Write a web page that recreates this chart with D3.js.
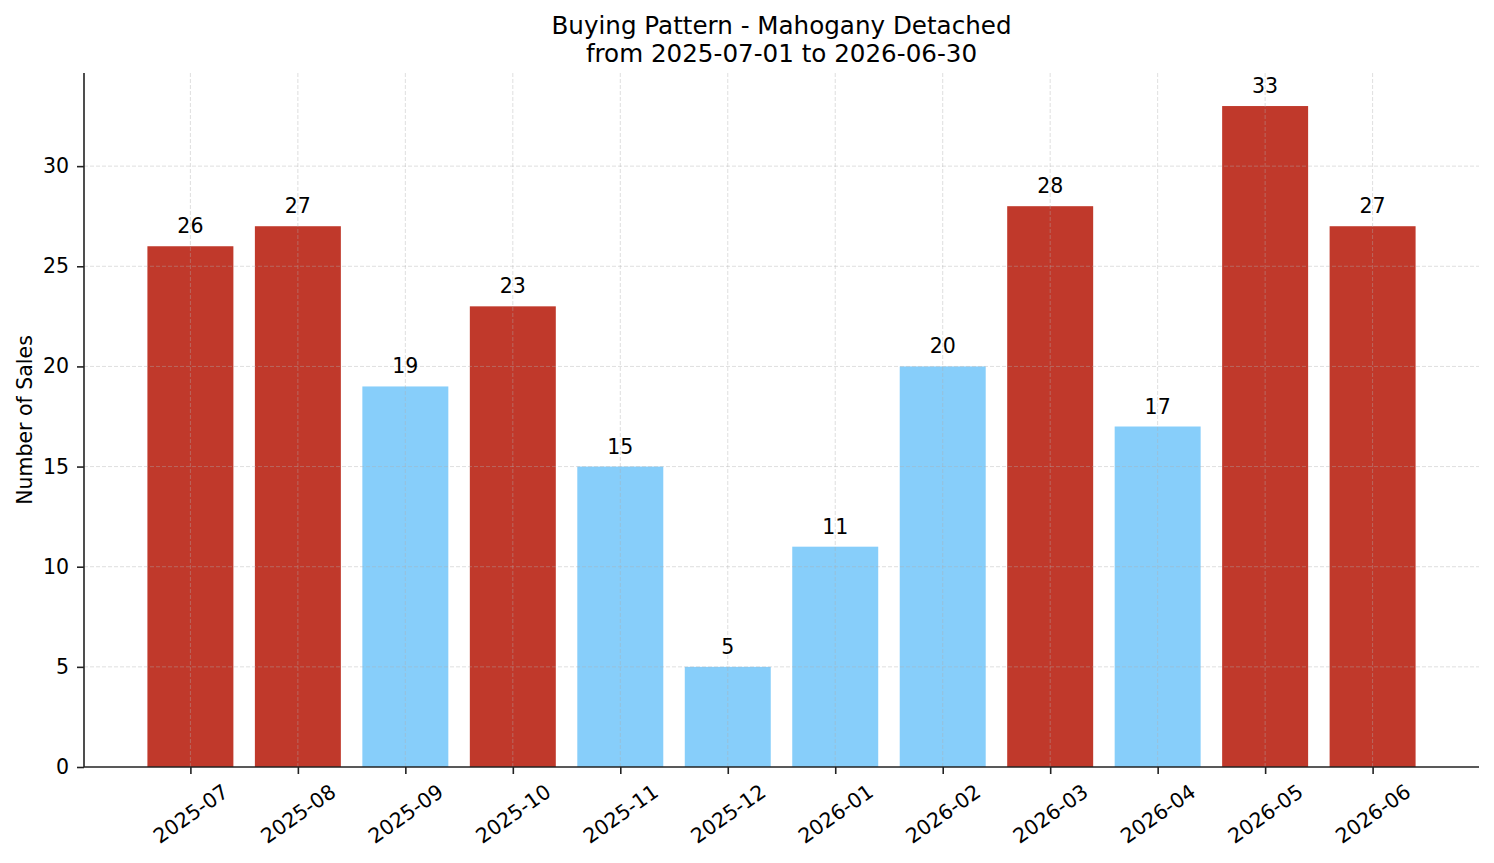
<!DOCTYPE html>
<html>
<head>
<meta charset="utf-8">
<script src="https://cdn.jsdelivr.net/npm/d3@7"></script>
<style>
  body { margin: 0; background: #fff; }
  svg, svg text { font-family: "DejaVu Sans", sans-serif; }
</style>
</head>
<body>
<div id="chart"></div>
<script>
var months = ["2025-07", "2025-08", "2025-09", "2025-10", "2025-11", "2025-12",
              "2026-01", "2026-02", "2026-03", "2026-04", "2026-05", "2026-06"];
var sales = [26, 27, 19, 23, 15, 5, 11, 20, 28, 17, 33, 27];
var y_ticks = [0, 5, 10, 15, 20, 25, 30];

var title_lines = ["Buying Pattern - Mahogany Detached", "from 2025-07-01 to 2026-06-30"];
var y_label = "Number of Sales";

var colour_high = "#c0392b";
var colour_low = "#87cefa";

var width = 1494, height = 863;
var margin = { top: 73, right: 15, bottom: 96, left: 84 };
var inner_w = width - margin.left - margin.right;
var inner_h = height - margin.top - margin.bottom;
var fs = 20.5;

var avg = d3.mean(sales);

var svg = d3.select("#chart").append("svg")
    .attr("width", width)
    .attr("height", height);

var g = svg.append("g")
    .attr("transform", "translate(" + margin.left + "," + margin.top + ")");

// matplotlib style limits: bars of width 0.8, 5% margin
var n = months.length;
var lo = -0.4 - 0.05 * (n - 0.2), hi = n - 1 + 0.4 + 0.05 * (n - 0.2);
var x = d3.scaleLinear().domain([lo, hi]).range([0, inner_w]);
var y = d3.scaleLinear().domain([0, d3.max(sales) * 1.05]).range([inner_h, 0]);

// bars
g.selectAll(".bar")
    .data(sales)
    .enter()
    .append("rect")
    .attr("class", "bar")
    .attr("x", function(d, i) { return x(i - 0.4); })
    .attr("width", x(0.8) - x(0))
    .attr("y", function(d) { return y(d); })
    .attr("height", function(d) { return inner_h - y(d); })
    .attr("fill", function(d) { return d > avg ? colour_high : colour_low; });

// grid on top of bars
var grid = g.append("g").attr("class", "grid");
grid.selectAll(".gy")
    .data(y_ticks.slice(1))
    .enter()
    .append("line")
    .attr("x1", 0).attr("x2", inner_w)
    .attr("y1", function(d) { return y(d); })
    .attr("y2", function(d) { return y(d); });
grid.selectAll(".gx")
    .data(months)
    .enter()
    .append("line")
    .attr("x1", function(d, i) { return x(i); })
    .attr("x2", function(d, i) { return x(i); })
    .attr("y1", 0).attr("y2", inner_h);
grid.selectAll("line")
    .attr("stroke", "#b0b0b0")
    .attr("stroke-opacity", 0.5)
    .attr("stroke-width", 0.8)
    .attr("stroke-dasharray", "4,2");

// value labels
g.selectAll(".val")
    .data(sales)
    .enter()
    .append("text")
    .attr("x", function(d, i) { return x(i); })
    .attr("y", function(d) { return y(d) - 13; })
    .attr("text-anchor", "middle")
    .style("font-size", fs + "px")
    .attr("fill", "#000")
    .text(function(d) { return d; });

// y axis
var y_axis = g.append("g")
    .call(d3.axisLeft(y).tickValues(y_ticks).tickSize(7).tickPadding(8).tickFormat(d3.format("d")));
y_axis.selectAll("text").style("font-size", fs + "px").attr("fill", "#000");

// x axis
var x_axis = g.append("g")
    .attr("transform", "translate(0," + inner_h + ")")
    .call(d3.axisBottom(x).tickValues(d3.range(n)).tickSize(7).tickFormat(function(d) { return months[d]; }));
x_axis.selectAll("text")
    .style("font-size", fs + "px")
    .attr("fill", "#000")
    .attr("dy", null)
    .attr("y", null)
    .attr("text-anchor", "middle")
    .attr("dominant-baseline", "central")
    .each(function() {
        var w = this.getComputedTextLength();
        var a = 35 * Math.PI / 180;
        var box_h = w * Math.sin(a) + 0.75 * fs * Math.cos(a);
        var cy = 16 + box_h / 2;
        d3.select(this).attr("transform", "translate(0," + cy + ") rotate(-35)");
    });

[y_axis, x_axis].forEach(function(ax) {
    ax.attr("font-family", null);
    ax.select(".domain").attr("stroke", "#222").attr("stroke-width", 1.6);
    ax.selectAll(".tick line").attr("stroke", "#222").attr("stroke-width", 1.6);
});
x_axis.select(".domain").attr("d", "M0,0H" + inner_w);
y_axis.select(".domain").attr("d", "M0," + inner_h + "V0");

// title
svg.append("text")
    .attr("x", margin.left + inner_w / 2)
    .attr("y", 34)
    .attr("text-anchor", "middle")
    .style("font-size", "24.6px")
    .selectAll("tspan")
    .data(title_lines)
    .enter()
    .append("tspan")
    .attr("x", margin.left + inner_w / 2)
    .attr("dy", function(d, i) { return i === 0 ? 0 : 28; })
    .text(function(d) { return d; });

// y label
svg.append("text")
    .attr("transform", "translate(32," + (margin.top + inner_h / 2) + ") rotate(-90)")
    .attr("text-anchor", "middle")
    .style("font-size", fs + "px")
    .text(y_label);
</script>
</body>
</html>
